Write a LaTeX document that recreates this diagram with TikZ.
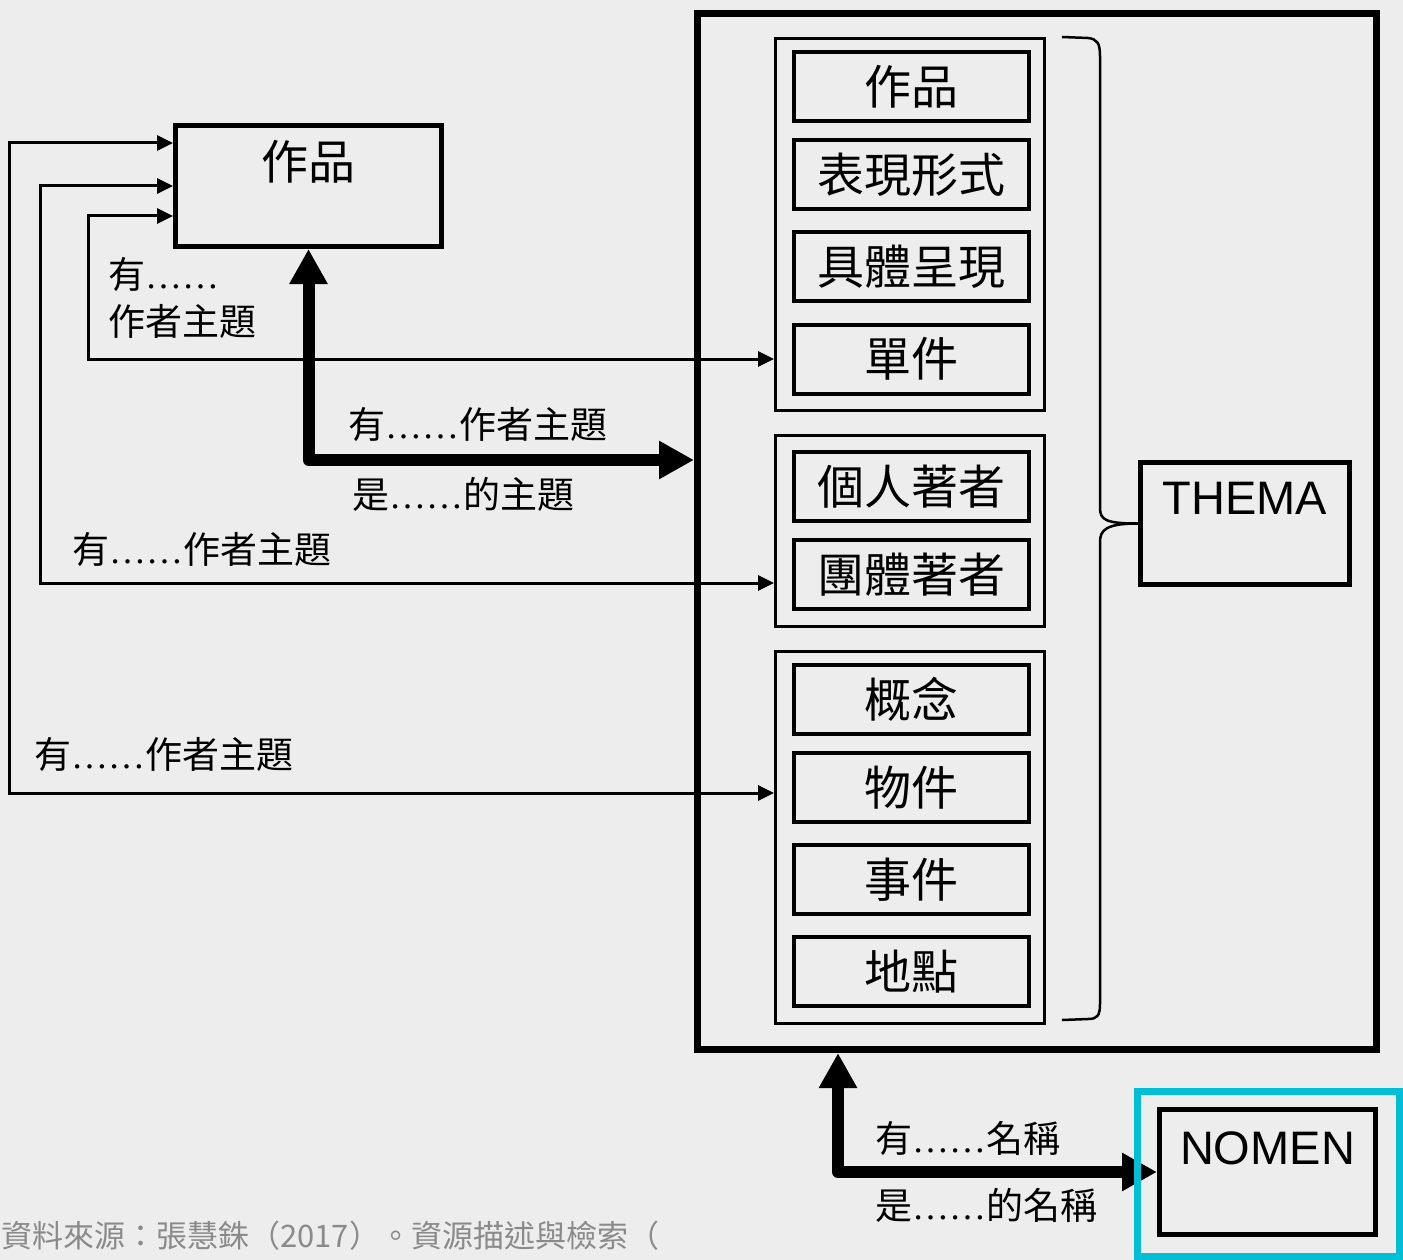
\documentclass[tikz,border=0pt]{standalone}
\usepackage{fontspec}
\setmainfont{Noto Sans CJK TC}
\newfontfamily\latinfont{Liberation Sans}
\newfontfamily\dotfont{Liberation Serif}
\usetikzlibrary{arrows.meta}

\definecolor{paper}{HTML}{EDEDED}
\definecolor{frame}{HTML}{00BED6}
\definecolor{note}{HTML}{8A8A8A}
\newcommand\boxfont{\fontsize{47}{56}\selectfont}
\newcommand\relfont{\fontsize{37}{47}\selectfont}
\newcommand\dd{{\dotfont ……}}

\begin{document}
\begin{tikzpicture}[x=1pt, y=-1pt,
  item/.style={draw, line width=4pt, minimum width=235pt, minimum height=69pt,
    inner sep=0pt, font=\boxfont},
  group/.style={draw, line width=3pt, minimum width=269pt, inner sep=0pt},
  entity/.style={draw, line width=5pt, inner sep=0pt},
  rel/.style={anchor=west, inner sep=0pt, font=\relfont, align=left},
  link/.style={line width=3pt,
    {Triangle[length=16pt,width=15pt]}-{Triangle[length=16pt,width=15pt]}},
  bigarrow/.style={line width=12pt, line join=round,
    {Triangle[length=35pt,width=36pt]}-{Triangle[length=35pt,width=36pt]}},
]
  \path[use as bounding box, fill=paper] (0,0) rectangle (1403,1260);

  % outer frame and its groups
  \node[draw, line width=7pt, minimum width=679pt, minimum height=1036pt] (big) at (1037,531.5) {};
  \node[group, minimum height=372pt] (g1) at (910,224.5) {};
  \node[group, minimum height=191pt] (g2) at (910,531) {};
  \node[group, minimum height=372pt] (g3) at (910,837.5) {};
  \foreach \name/\y/\txt in {iwork/86.5/作品, iexpr/174.5/表現形式, imani/266.5/具體呈現,
      iitem/359/單件, iperson/486.5/個人著者, icorp/574.5/團體著者,
      iconcept/699.5/概念, iobject/787.5/物件, ievent/879.5/事件, iplace/971.5/地點}
    \node[item] (\name) at (911.5,\y) {\txt};

  % entities
  \node[entity, minimum width=266pt, minimum height=121pt] (work) at (308.5,186) {};
  \node[font=\boxfont] (worktitle) at ([yshift=24pt]work.center) {作品};
  \node[entity, minimum width=209pt, minimum height=122pt] (thema) at (1245,523.5) {};
  \node[font=\boxfont\latinfont] (thematitle) at ([yshift=25pt]thema.center) {THEMA};
  \node[entity, minimum width=216pt, minimum height=125pt] (nomen) at (1267.5,1172) {};
  \node[font=\boxfont\latinfont] (nomentitle) at ([yshift=24pt]nomen.center) {NOMEN};

  % brace
  \draw[line width=2.5pt] (1062,37) -- (1088,38) .. controls (1097,39) and (1100,43) .. (1100,56)
    -- (1100,508) .. controls (1100,520) and (1106,523.5) .. (thema.west);
  \draw[line width=2.5pt] (thema.west) .. controls (1106,523.5) and (1100,530) .. (1100,542)
    -- (1100,1004) .. controls (1100,1016) and (1097,1019) .. (1088,1019) -- (1062,1020);

  % subject links
  \draw[link] ([yshift=-30pt]work.west) -- (88,216) |- (iitem.west -| g1.west);
  \draw[link] (work.west) -- (40,186) |- ([yshift=-8.5pt]icorp.west -| g2.west);
  \draw[link] ([yshift=43pt]work.west) -- (9,143) |- ([yshift=-5.5pt]iobject.west -| g3.west);
  \node[rel] (l1) at (108,298) {有\dd\\作者主題};
  \node[rel] (l2) at (72,550) {有\dd 作者主題};
  \node[rel] (l3) at (34,755) {有\dd 作者主題};

  \draw[bigarrow] (work.south) |- (big.west |- 0,460);
  \node[rel] (l4) at (348,425) {有\dd 作者主題};
  \node[rel] (l5) at (352,494) {是\dd 的主題};

  \draw[bigarrow] ([xshift=-199pt]big.south) |- (nomen.west);
  \node[rel] (l6) at (875,1138) {有\dd 名稱};
  \node[rel] (l7) at (875,1205) {是\dd 的名稱};
  \draw[frame, line width=7pt] (1137,1091) rectangle (1399.5,1256);

  \node[anchor=west, inner sep=0pt, text=note, font=\fontsize{31}{36}\selectfont] (source)
    at (1,1236) {資料來源：張慧銖（2017）。資源描述與檢索（};
\end{tikzpicture}
\end{document}
